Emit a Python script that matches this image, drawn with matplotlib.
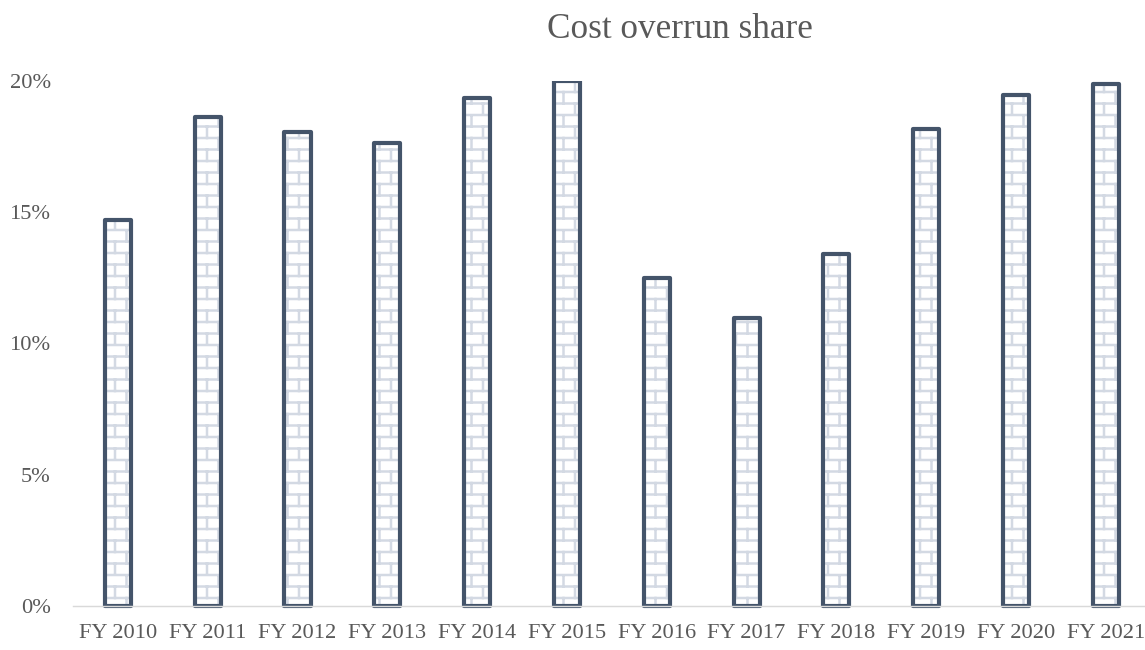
import matplotlib
matplotlib.use("Agg")
import matplotlib.pyplot as plt
import matplotlib.hatch as mhatch
from matplotlib.path import Path
from matplotlib.patches import Rectangle
import numpy as np

# ---------------- data ----------------
categories = ["FY 2010", "FY 2011", "FY 2012", "FY 2013", "FY 2014", "FY 2015",
              "FY 2016", "FY 2017", "FY 2018", "FY 2019", "FY 2020", "FY 2021"]
values = [14.7, 18.63, 18.05, 17.65, 19.35, 20.0,
          12.5, 10.97, 13.4, 18.18, 19.47, 19.87]   # percent
y_ticks = [0, 5, 10, 15, 20]
y_tick_labels = ["0%", "5%", "10%", "15%", "20%"]
title = "Cost overrun share"

# ---------------- custom brick hatch ----------------
class BrickHatch(mhatch.HatchPatternBase):
    ROWS = 10
    BRICKS = 5

    def __init__(self, hatch, density):
        segs = []
        if 'b' in hatch:
            R, B = self.ROWS, self.BRICKS
            for r in range(R + 1):
                y = r / R
                segs.append(((0.0, y), (1.0, y)))
            for r in range(R):
                y0, y1 = r / R, (r + 1) / R
                if r % 2 == 0:
                    xs = [k / B for k in range(B + 1)]
                else:
                    xs = [(k + 0.5) / B for k in range(B)]
                for x in xs:
                    segs.append(((x, y0), (x, y1)))
        self.segs = segs
        self.num_vertices = 2 * len(segs)

    def set_vertices_and_codes(self, vertices, codes):
        pts = np.array([p for s in self.segs for p in s], dtype=float)
        vertices[:] = pts
        codes[0::2] = Path.MOVETO
        codes[1::2] = Path.LINETO

mhatch._hatch_types.append(BrickHatch)
mhatch._validate_hatch_pattern = lambda h: None

# ---------------- style ----------------
DPI = 115
W, H = 1145, 650
plt.rcParams['font.family'] = ['Liberation Serif', 'DejaVu Serif']
plt.rcParams['hatch.linewidth'] = 1.55
text_color = "#595959"
edge_color = "#44546A"
hatch_color = "#D3D9E3"

fig = plt.figure(figsize=(W / DPI, H / DPI), dpi=DPI)
left_px, right_px = 73.0, 1150.7
bottom_px, top_px = 606.0, 81.0
ax = fig.add_axes([left_px / W, 1 - bottom_px / H,
                   (right_px - left_px) / W, (bottom_px - top_px) / H])

x = np.arange(len(categories))
bw = 0.29
fills = ax.bar(x, values, width=bw, color="white", edgecolor=hatch_color,
               linewidth=0, hatch='b', zorder=1)
outlines = ax.bar(x, values, width=bw, facecolor="none", edgecolor=edge_color,
                  linewidth=2.6, zorder=1.5)
clip = Rectangle((0, -0.05), 1, 1.05, transform=ax.transAxes,
                 facecolor='none', edgecolor='none')
for p in outlines:
    p.set_joinstyle('round')
    p.set_clip_path(clip)
for p in fills:
    p.set_clip_path(clip)

ax.set_xlim(-0.5, len(categories) - 0.5)
ax.set_ylim(0, 20)
ax.set_xticks(x)
ax.set_xticklabels(categories)
ax.set_yticks(y_ticks)
ax.set_yticklabels(y_tick_labels)
ax.tick_params(axis='both', length=0, labelsize=14, colors=text_color)
ax.tick_params(axis='x', pad=11)
ax.tick_params(axis='y', pad=14)
for s in ['top', 'right', 'left']:
    ax.spines[s].set_visible(False)
ax.spines['bottom'].set_color("#D9D9D9")
ax.spines['bottom'].set_linewidth(0.9)
ax.spines['bottom'].set_zorder(3)

fig.text(680 / W, 1 - 30 / H, title, ha='center', va='center',
         fontsize=22, color=text_color)

fig.savefig("out.png", dpi=DPI, facecolor="white")
